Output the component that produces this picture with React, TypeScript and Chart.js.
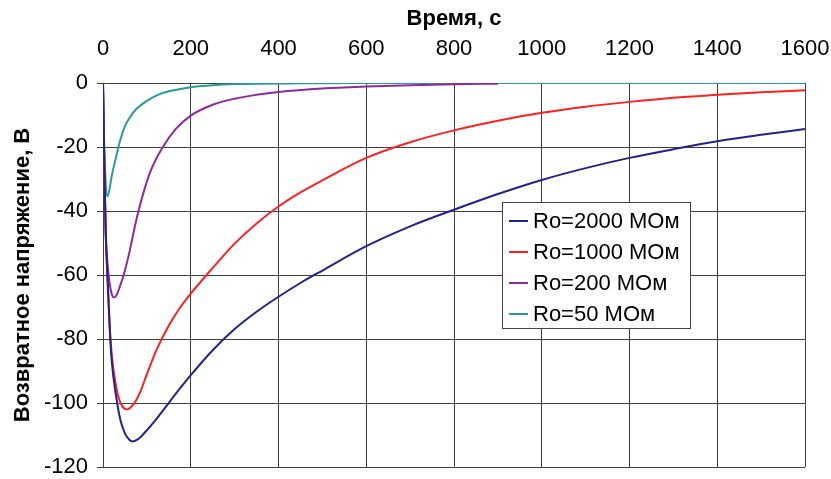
import { useEffect, useRef } from "react";
import { Chart, registerables } from "chart.js";

Chart.register(...registerables);

const X_TITLE = "Время, с";
const Y_TITLE = "Возвратное напряжение, В";
const SERIES_LABELS = ["Ro=2000 МОм", "Ro=1000 МОм", "Ro=200 МОм", "Ro=50 МОм"];
const SERIES_COLORS = ["#22228c", "#ff2020", "#8e2a9e", "#2a9a9a"];

const X_MIN = 0;
const X_MAX = 1600;
const X_STEP = 200;
const Y_MIN = -120;
const Y_MAX = 0;
const Y_STEP = 20;

// Ro = 2000 MOm
const T_2000 = [0, 3, 6, 10, 15, 20, 30, 40, 50, 60, 67, 80, 97, 120, 143, 170, 200, 250, 300, 350, 400, 450, 500, 600, 700, 800, 900, 1000, 1100, 1200, 1300, 1400, 1500, 1600];
const V_2000 = [0, -25, -45, -60, -76, -87, -98, -105.5, -109.5, -111.5, -112, -111.3, -109, -105.3, -101.2, -96.4, -91.3, -83.5, -76.9, -71.5, -66.8, -62.5, -58.6, -51, -44.8, -39.6, -34.7, -30.3, -26.6, -23.4, -20.7, -18.2, -16.2, -14.4];

// Ro = 1000 MOm
const T_1000 = [0, 3, 6, 10, 15, 20, 30, 40, 55, 70, 85, 100, 120, 150, 175, 200, 250, 300, 350, 400, 450, 500, 600, 700, 800, 900, 1000, 1100, 1200, 1300, 1400, 1500, 1600];
const V_1000 = [0, -25, -45, -60, -75, -85, -95, -100, -102, -100.3, -96.5, -91, -84, -75.8, -70.3, -65.8, -57.8, -50.2, -43.9, -38.6, -34.2, -30.4, -23.4, -18.5, -14.8, -11.8, -9.3, -7.4, -5.9, -4.6, -3.7, -2.9, -2.3];

// Ro = 200 MOm
const T_200 = [0, 3, 6, 10, 15, 20, 25, 30, 40, 50, 60, 70, 80, 95, 110, 135, 165, 200, 250, 300, 350, 400, 500, 600, 700, 800, 900];
const V_200 = [0, -28, -47, -56, -62.5, -66, -67, -66.5, -63, -58.5, -53, -46.5, -40.5, -33, -27, -20.3, -14.5, -10.2, -6.8, -4.9, -3.7, -2.8, -1.7, -1.1, -0.7, -0.4, -0.2];

// Ro = 50 MOm
const T_50 = [0, 2, 5, 10, 15, 20, 30, 40, 50, 60, 75, 100, 125, 150, 200, 250, 300, 350, 450, 600, 800, 1000, 1200, 1400, 1600];
const V_50 = [0, -15, -28, -35.5, -33, -29, -23, -17.5, -13.5, -11, -8.3, -5.6, -3.7, -2.6, -1.3, -0.7, -0.35, -0.2, -0.1, 0, 0, 0, 0, 0, 0];

const SERIES_T = [T_2000, T_1000, T_200, T_50];
const SERIES_V = [V_2000, V_1000, V_200, V_50];

const FONT_FAMILY = "Arial, 'Liberation Sans', sans-serif";

const boxLegend = {
  id: "boxLegend",
  afterDatasetsDraw(chart: any) {
    const ctx = chart.ctx as CanvasRenderingContext2D;
    const x0 = 502;
    const y0 = 202;
    const w = 188;
    const h = 126;
    ctx.save();
    ctx.fillStyle = "#ffffff";
    ctx.fillRect(x0, y0, w, h);
    ctx.strokeStyle = "#444444";
    ctx.lineWidth = 1;
    ctx.strokeRect(x0 + 0.5, y0 + 0.5, w, h);
    chart.data.datasets.forEach((ds: any, i: number) => {
      const cy = y0 + 19 + i * 31;
      ctx.strokeStyle = ds.borderColor;
      ctx.lineWidth = 2;
      ctx.beginPath();
      ctx.moveTo(x0 + 7, cy);
      ctx.lineTo(x0 + 26, cy);
      ctx.stroke();
      ctx.fillStyle = "#000000";
      ctx.font = `22px ${FONT_FAMILY}`;
      ctx.textBaseline = "middle";
      ctx.textAlign = "left";
      ctx.fillText(ds.label, x0 + 31, cy + 1);
    });
    ctx.restore();
  },
};

export default function App() {
  const canvasRef = useRef<HTMLCanvasElement | null>(null);

  useEffect(() => {
    document.body.style.margin = "0";
    const canvas = canvasRef.current;
    if (!canvas) return;
    const datasets = SERIES_LABELS.map((label, i) => ({
      label,
      data: SERIES_T[i].map((t, j) => ({ x: t, y: SERIES_V[i][j] })),
      borderColor: SERIES_COLORS[i],
      backgroundColor: SERIES_COLORS[i],
      borderWidth: 2,
      pointRadius: 0,
      cubicInterpolationMode: "monotone" as const,
      fill: false,
    }));
    const chart = new Chart(canvas, {
      type: "line",
      data: { datasets },
      plugins: [boxLegend],
      options: {
        responsive: false,
        animation: false,
        layout: { padding: { left: 0, top: 0, right: 26, bottom: 12 } },
        plugins: {
          legend: { display: false },
          tooltip: { enabled: false },
        },
        scales: {
          x: {
            type: "linear",
            position: "top",
            min: X_MIN,
            max: X_MAX,
            ticks: {
              stepSize: X_STEP,
              color: "#000",
              font: { size: 22, family: FONT_FAMILY },
              padding: 21,
              maxRotation: 0,
              callback: (v: any) => String(v),
            },
            grid: { color: "#404040", lineWidth: 1, drawTicks: false },
            border: { display: true, color: "#404040" },
            title: {
              display: true,
              text: X_TITLE,
              color: "#000",
              font: { size: 22, weight: "bold", family: FONT_FAMILY },
              padding: { top: 6, bottom: 0 },
            },
            afterFit: (s: any) => {
              s.height = 83;
              s.paddingLeft = 0;
              s.paddingRight = 0;
            },
          },
          y: {
            type: "linear",
            min: Y_MIN,
            max: Y_MAX,
            ticks: {
              stepSize: Y_STEP,
              color: "#000",
              font: { size: 22, family: FONT_FAMILY },
              padding: 9,
              callback: (v: any) => String(v),
            },
            grid: { color: "#404040", lineWidth: 1, tickLength: 6 },
            border: { display: true, color: "#404040" },
            title: {
              display: true,
              text: Y_TITLE,
              color: "#000",
              font: { size: 22, weight: "bold", family: FONT_FAMILY },
              padding: { top: 10, bottom: 0 },
            },
            afterFit: (s: any) => {
              s.width = 103;
              s.paddingTop = 0;
              s.paddingBottom = 0;
            },
          },
        },
      },
    });
    return () => chart.destroy();
  }, []);

  return (
    <div style={{ width: 831, height: 479 }}>
      <canvas ref={canvasRef} width={831} height={479} style={{ display: "block" }} />
    </div>
  );
}
